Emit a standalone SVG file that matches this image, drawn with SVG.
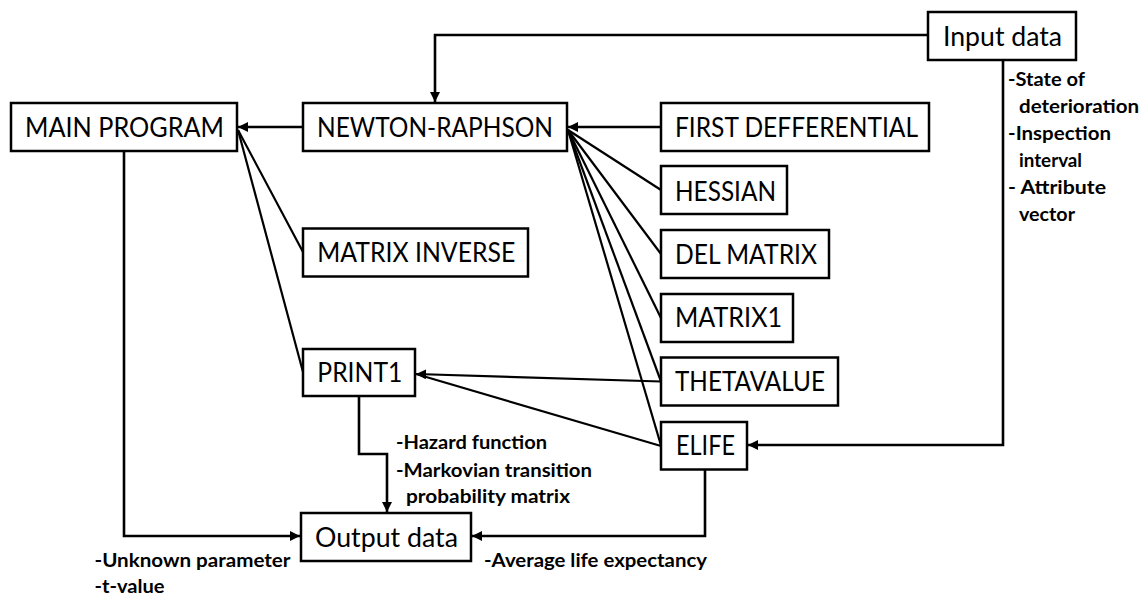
<svg xmlns="http://www.w3.org/2000/svg" width="1148" height="597" viewBox="0 0 1148 597">
<style>
.box{fill:#fff;stroke:#000;stroke-width:2.5}
.lbl{font-family:Lato,"Open Sans","Liberation Sans",sans-serif;font-size:26px;fill:#000}
.ann{font-family:Lato,"Open Sans","Liberation Sans",sans-serif;font-size:19px;font-weight:bold;fill:#000}
.c{fill:none;stroke:#000;stroke-width:2.6}
.d{fill:none;stroke:#000;stroke-width:2.2}
</style>
<defs>
<marker id="ah" viewBox="0 0 10 10" refX="10" refY="5" markerWidth="10" markerHeight="10" markerUnits="userSpaceOnUse" orient="auto">
<path d="M0,0 L10,5 L0,10 Z" fill="#000"/>
</marker>
</defs>
<rect width="1148" height="597" fill="#fff"/>
<g id="connectors">
<path class="c" d="M928,35 H435 V102" marker-end="url(#ah)"/>
<path class="c" d="M1003,60 V445 H748" marker-end="url(#ah)"/>
<path class="c" d="M303,127 H238" marker-end="url(#ah)"/>
<path class="c" d="M661,127 H568" marker-end="url(#ah)"/>
<path class="c" d="M124,151 V536 H300" marker-end="url(#ah)"/>
<path class="c" d="M359,396 V454 H387 V512" marker-end="url(#ah)"/>
<path class="c" d="M705,469 V536 H472" marker-end="url(#ah)"/>
<path class="d" d="M661,381.5 L416,374" marker-end="url(#ah)"/>
<path class="d" d="M661,446 L416,374"/>
<path class="d" d="M303,252 L238,130"/>
<path class="d" d="M303,372 L238,130"/>
<path class="d" d="M661,190 L568,130"/>
<path class="d" d="M661,254 L568,130"/>
<path class="d" d="M661,318 L568,130"/>
<path class="d" d="M661,381.5 L568,130"/>
<path class="d" d="M661,445.5 L568,130"/>
</g>
<g id="input-data"><rect class="box" x="928" y="12" width="148" height="48"/><text class="lbl" x="943" y="46" textLength="119" lengthAdjust="spacingAndGlyphs">Input data</text></g>
<g id="main-program"><rect class="box" x="11" y="103" width="226" height="48"/><text class="lbl" x="25" y="137.3" textLength="199" lengthAdjust="spacingAndGlyphs">MAIN PROGRAM</text></g>
<g id="newton-raphson"><rect class="box" x="303" y="103" width="264" height="48"/><text class="lbl" x="317" y="137" textLength="236" lengthAdjust="spacingAndGlyphs">NEWTON-RAPHSON</text></g>
<g id="first-defferential"><rect class="box" x="661" y="103" width="268" height="48"/><text class="lbl" x="675" y="136.7" textLength="243" lengthAdjust="spacingAndGlyphs">FIRST DEFFERENTIAL</text></g>
<g id="hessian"><rect class="box" x="661" y="166" width="126" height="48"/><text class="lbl" x="675" y="200.7" textLength="101" lengthAdjust="spacingAndGlyphs">HESSIAN</text></g>
<g id="del-matrix"><rect class="box" x="661" y="230" width="168" height="48"/><text class="lbl" x="675" y="264" textLength="142" lengthAdjust="spacingAndGlyphs">DEL MATRIX</text></g>
<g id="matrix1"><rect class="box" x="661" y="294" width="132" height="48"/><text class="lbl" x="675" y="327.3" textLength="107" lengthAdjust="spacingAndGlyphs">MATRIX1</text></g>
<g id="thetavalue"><rect class="box" x="661" y="357.5" width="177" height="48"/><text class="lbl" x="675" y="391" textLength="150" lengthAdjust="spacingAndGlyphs">THETAVALUE</text></g>
<g id="elife"><rect class="box" x="661" y="422" width="86" height="47.5"/><text class="lbl" x="676" y="455" textLength="59" lengthAdjust="spacingAndGlyphs">ELIFE</text></g>
<g id="matrix-inverse"><rect class="box" x="303" y="228.5" width="225" height="48"/><text class="lbl" x="317.3" y="262.3" textLength="198" lengthAdjust="spacingAndGlyphs">MATRIX INVERSE</text></g>
<g id="print1"><rect class="box" x="303" y="349" width="112" height="47"/><text class="lbl" x="317.3" y="381.7" textLength="85" lengthAdjust="spacingAndGlyphs">PRINT1</text></g>
<g id="output-data"><rect class="box" x="301" y="513" width="170" height="48"/><text class="lbl" x="315" y="546.7" textLength="143" lengthAdjust="spacingAndGlyphs">Output data</text></g>
<g id="labels">
<text class="ann" x="1008" y="86" textLength="77" lengthAdjust="spacingAndGlyphs">-State of</text>
<text class="ann" x="1019" y="113" textLength="120" lengthAdjust="spacingAndGlyphs">deterioration</text>
<text class="ann" x="1008" y="140" textLength="103" lengthAdjust="spacingAndGlyphs">-Inspection</text>
<text class="ann" x="1019" y="167" textLength="63" lengthAdjust="spacingAndGlyphs">interval</text>
<text class="ann" x="1008" y="194" textLength="98" lengthAdjust="spacingAndGlyphs">- Attribute</text>
<text class="ann" x="1019" y="221" textLength="56" lengthAdjust="spacingAndGlyphs">vector</text>
<text class="ann" x="396" y="449" textLength="151" lengthAdjust="spacingAndGlyphs">-Hazard function</text>
<text class="ann" x="396" y="476.7" textLength="196" lengthAdjust="spacingAndGlyphs">-Markovian transition</text>
<text class="ann" x="406" y="502.7" textLength="164" lengthAdjust="spacingAndGlyphs">probability matrix</text>
<text class="ann" x="94.5" y="567" textLength="196" lengthAdjust="spacingAndGlyphs">-Unknown parameter</text>
<text class="ann" x="94.5" y="592.7" textLength="70" lengthAdjust="spacingAndGlyphs">-t-value</text>
<text class="ann" x="484" y="566.7" textLength="223" lengthAdjust="spacingAndGlyphs">-Average life expectancy</text>
</g>
</svg>
